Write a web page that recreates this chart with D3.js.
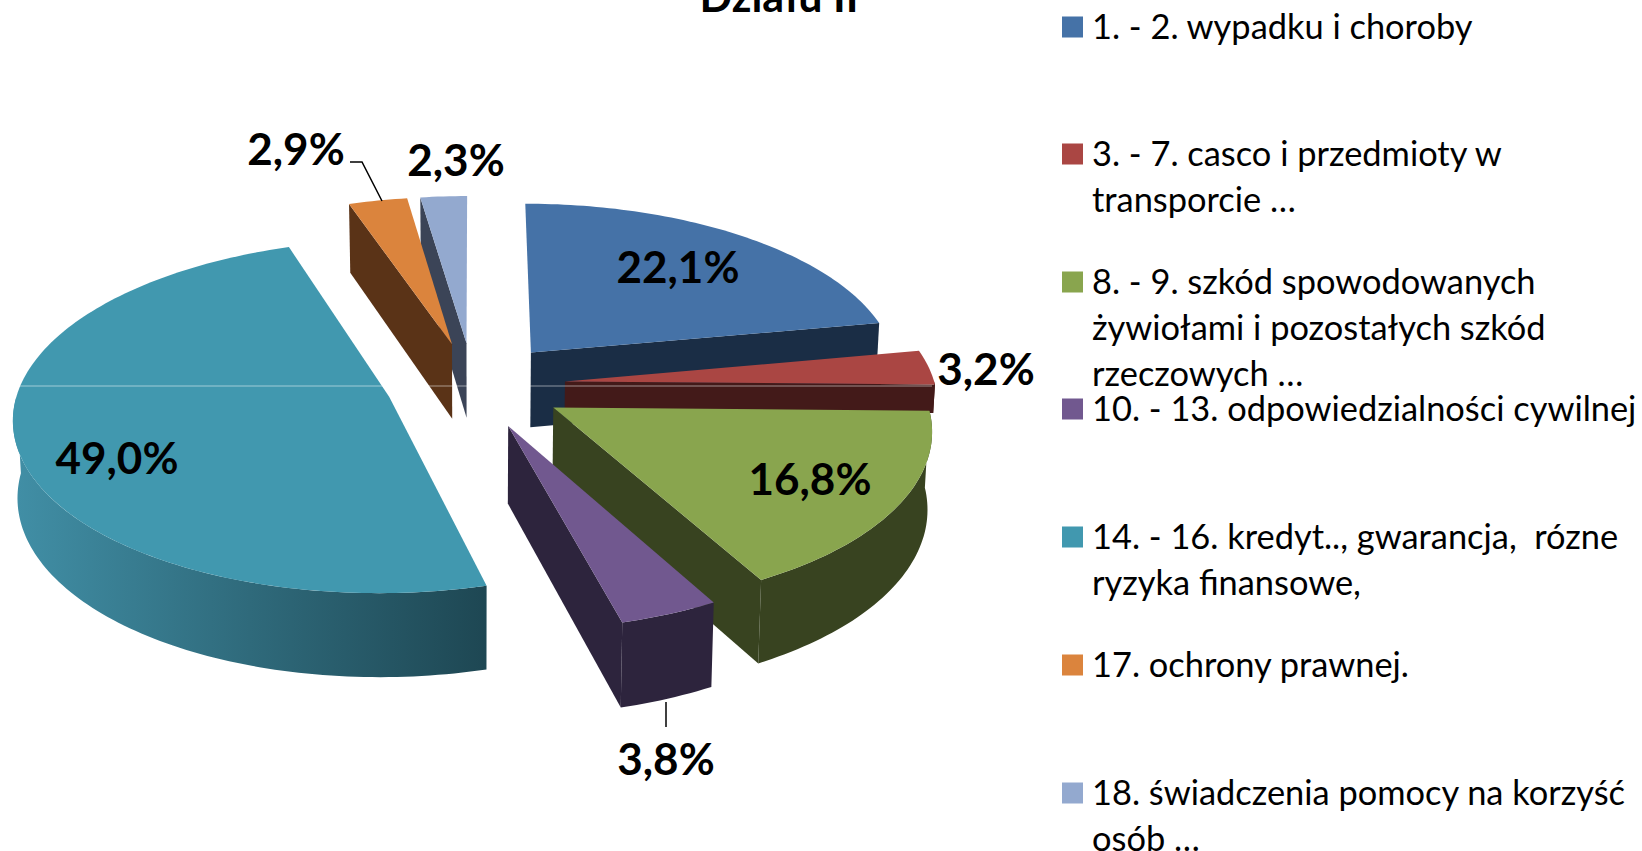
<!DOCTYPE html>
<html>
<head>
<meta charset="utf-8">
<script src="https://cdn.jsdelivr.net/npm/d3@7/dist/d3.min.js"></script>
<style>
body { margin: 0; background: #fff; }
svg { display: block; }
text { font-family: Lato, "Open Sans", sans-serif; fill: #000; }
</style>
</head>
<body>
<div id="chart"></div>
<script>
// values
const values = [22.1, 3.2, 16.8, 3.8, 49.0, 2.9, 2.3];
const valueLabels = ["22,1%", "3,2%", "16,8%", "3,8%", "49,0%", "2,9%", "2,3%"];
const legendLines = [
    ["1. - 2. wypadku i choroby"],
    ["3. - 7. casco i przedmioty w", "transporcie …"],
    ["8. - 9. szkód spowodowanych", "żywiołami i pozostałych szkód", "rzeczowych …"],
    ["10. - 13. odpowiedzialności cywilnej"],
    ["14. - 16. kredyt.., gwarancja,  rózne", "ryzyka finansowe,"],
    ["17. ochrony prawnej."],
    ["18. świadczenia pomocy na korzyść", "osób …"]
];
const topColors = ["#4572a7", "#aa4643", "#89a54e", "#71588f", "#4198af", "#db843d", "#93a9cf"];
const sideColors = ["#1a2d45", "#431a19", "#384320", "#2d243d", "#1e4753", "#5a3317", "#3b4457"];
const titleText = "Działu II";

// layout of the text, not data
const labelPos = [[678, 266], [986, 368], [810, 478], [666, 758], [117, 457], [296, 148], [456, 159]];
const legendY = [27, 154, 282, 409, 537, 665, 793];

const width = 1642, height = 851;
const cx = 473, cy = 385;      // pie centre on screen
const rx = 370, ry = 172;      // radius in x and y
const persp = 0.11;            // near things are bigger
const explode = [0.25, 0.25, 0.25, 0.25, 0.235, 0.25, 0.25];
const depth = 76;

const svg = d3.select("#chart").append("svg")
    .attr("width", width)
    .attr("height", height);

// ground plane -> screen, z = 1 is the bottom of the pie
function project(x, y, z) {
    const s = 1 / (1 - persp * y);
    const spread = z ? 0.99 : 1;
    return [
        cx + rx * x * s * spread,
        cy + ry * y * s + z * depth * Math.pow(s, 0.8)
    ];
}

const pie = d3.pie().sort(null).value(d => d);
const slices = pie(values);
const line = d3.line();

function rim(d, a) {
    const mid = (d.startAngle + d.endAngle) / 2;
    return [
        explode[d.index] * Math.sin(mid) + Math.sin(a),
        -explode[d.index] * Math.cos(mid) - Math.cos(a)
    ];
}
function apex(d) {
    const mid = (d.startAngle + d.endAngle) / 2;
    return [explode[d.index] * Math.sin(mid), -explode[d.index] * Math.cos(mid)];
}
function arcAngles(a0, a1) {
    const n = Math.max(2, Math.ceil((a1 - a0) / 0.02));
    return d3.range(n + 1).map(i => a0 + (a1 - a0) * i / n);
}
// wall hanging down from a run of ground points
function wall(pts) {
    const top = pts.map(p => project(p[0], p[1], 0));
    const bottom = pts.map(p => project(p[0], p[1], 1)).reverse();
    return line(top.concat(bottom)) + "Z";
}

const defs = svg.append("defs");

// teal wall fades from light on the left to dark on the right
const grad = defs.append("linearGradient")
    .attr("id", "tealWall");
grad.append("stop").attr("offset", "0%").attr("stop-color", "#418fa6");
grad.append("stop").attr("offset", "50%").attr("stop-color", "#2f6a7b");
grad.append("stop").attr("offset", "100%").attr("stop-color", "#1e4753");

// the red wall stops where the green slice starts
defs.append("clipPath").attr("id", "redWall")
    .append("rect")
    .attr("x", 0).attr("y", 0)
    .attr("width", width).attr("height", 413);

// back to front
const drawOrder = [6, 5, 4, 0, 1, 2, 3];

drawOrder.forEach(function (i) {
    const d = slices[i];
    const g = svg.append("g").attr("class", "slice");
    const walls = g.append("g");
    if (i === 1) walls.attr("clip-path", "url(#redWall)");
    const fill = i === 4 ? "url(#tealWall)" : sideColors[i];
    const c = apex(d);

    // radial walls, only the ones facing us
    if (Math.sin(d.startAngle) < -1e-6) {
        walls.append("path").attr("d", wall([c, rim(d, d.startAngle)])).attr("fill", sideColors[i]);
    }
    if (Math.sin(d.endAngle) > 1e-6) {
        walls.append("path").attr("d", wall([c, rim(d, d.endAngle)])).attr("fill", sideColors[i]);
    }

    // outer wall, front half only
    const a0 = Math.max(d.startAngle, Math.PI / 2);
    const a1 = Math.min(d.endAngle, Math.PI * 1.5);
    if (a1 > a0) {
        walls.append("path")
            .attr("d", wall(arcAngles(a0, a1).map(a => rim(d, a))))
            .attr("fill", fill);
    }

    // top face
    const face = [c].concat(arcAngles(d.startAngle, d.endAngle).map(a => rim(d, a)));
    g.append("path")
        .attr("d", line(face.map(p => project(p[0], p[1], 0))) + "Z")
        .attr("fill", topColors[i]);
});

// thin pale streak across the picture
svg.append("line")
    .attr("x1", 13).attr("x2", 932)
    .attr("y1", 386).attr("y2", 386)
    .attr("stroke", "#fff")
    .attr("stroke-opacity", 0.5)
    .attr("stroke-width", 1);

// leader lines
svg.append("path")
    .attr("d", line([[350, 162], [362, 162], [382, 201]]))
    .attr("fill", "none").attr("stroke", "#000").attr("stroke-width", 1.5);
svg.append("path")
    .attr("d", line([[666, 702], [666, 727]]))
    .attr("fill", "none").attr("stroke", "#000").attr("stroke-width", 1.5);

// value labels
svg.selectAll(".value")
    .data(valueLabels)
    .enter().append("text")
    .attr("class", "value")
    .attr("x", (d, i) => labelPos[i][0])
    .attr("y", (d, i) => labelPos[i][1])
    .attr("text-anchor", "middle")
    .attr("dominant-baseline", "central")
    .attr("font-size", 44)
    .attr("font-weight", 700)
    .text(d => d);

// title, cut by the top edge as in the picture
svg.append("text")
    .attr("x", 779)
    .attr("y", 12)
    .attr("text-anchor", "middle")
    .attr("font-size", 43)
    .attr("font-weight", 700)
    .text(titleText);

// legend
const legend = svg.selectAll(".legend")
    .data(legendLines)
    .enter().append("g")
    .attr("class", "legend")
    .attr("transform", (d, i) => "translate(1062," + legendY[i] + ")");

legend.append("rect")
    .attr("x", 0).attr("y", -10.5)
    .attr("width", 21).attr("height", 21)
    .attr("fill", (d, i) => topColors[i]);

legend.selectAll("text")
    .data(d => d)
    .enter().append("text")
    .attr("x", 30)
    .attr("y", (d, i) => i * 46 - 2)
    .attr("dominant-baseline", "central")
    .attr("font-size", 34.4)
    .attr("xml:space", "preserve")
    .style("white-space", "pre")
    .text(d => d);
</script>
</body>
</html>
